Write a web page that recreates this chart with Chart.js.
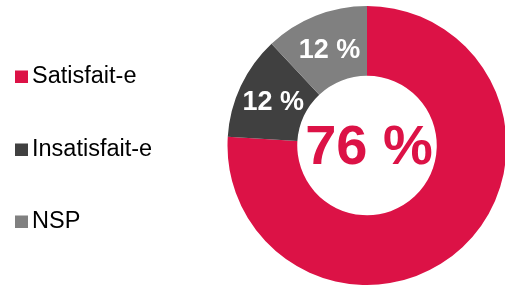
<!DOCTYPE html>
<html>
<head>
<meta charset="utf-8">
<script src="https://cdn.jsdelivr.net/npm/chart.js@4/dist/chart.umd.min.js"></script>
<style>
  html, body { margin: 0; padding: 0; background: #fff; overflow: hidden; }
  #wrap { width: 507px; height: 287px; }
</style>
</head>
<body>
<div id="wrap"><canvas id="donutChart"></canvas></div>
<script>
const categories = ['Satisfait-e', 'Insatisfait-e', 'NSP'];
const values = [76, 12, 12];
const colors = ['#dc1246', '#404040', '#808080'];
const centerLabel = '76 %';

// legend on the left, drawn by hand so the spacing matches
const sideLegend = {
    id: 'sideLegend',
    afterDraw: function(chart) {
        const ctx = chart.ctx;
        const rows = [76.5, 149.5, 221.5];
        ctx.save();
        ctx.font = '23.5px "Liberation Sans", Arial, sans-serif';
        ctx.textBaseline = 'middle';
        ctx.textAlign = 'left';
        for(let i=0;i<chart.data.labels.length;i++) {
            ctx.fillStyle = chart.data.datasets[0].backgroundColor[i];
            ctx.fillRect(15, rows[i] - 6, 13, 12.5);
            ctx.fillStyle = '#000';
            ctx.fillText(chart.data.labels[i], 32, rows[i] + 0.5);
        }
        ctx.restore();
    }
};

// percent labels on the arcs and big number in the hole
const arcLabels = {
    id: 'arcLabels',
    afterDatasetsDraw: function(chart) {
        const ctx = chart.ctx;
        const meta = chart.getDatasetMeta(0);
        ctx.save();
        ctx.textAlign = 'center';
        ctx.textBaseline = 'middle';
        ctx.fillStyle = '#fff';
        ctx.font = 'bold 27px "Liberation Sans", Arial, sans-serif';
        for(let i=1;i<meta.data.length;i++) {
            const pos = meta.data[i].tooltipPosition();
            ctx.fillText(values[i] + ' %', pos.x + 1, pos.y + 2);
        }
        const arc = meta.data[0];
        ctx.fillStyle = colors[0];
        ctx.font = 'bold 56px "Liberation Sans", Arial, sans-serif';
        ctx.fillText(centerLabel, arc.x + 2, arc.y + 3);
        ctx.restore();
    }
};

new Chart(document.getElementById('donutChart'), {
    type: 'doughnut',
    data: {
        labels: categories,
        datasets: [{
            data: values,
            backgroundColor: colors,
            borderWidth: 0
        }]
    },
    options: {
        responsive: true,
        maintainAspectRatio: false,
        animation: false,
        cutout: '50%',
        layout: { padding: { left: 227, top: 6, right: 0, bottom: 2 } },
        plugins: {
            legend: { display: false },
            tooltip: { enabled: false }
        }
    },
    plugins: [sideLegend, arcLabels]
});
</script>
</body>
</html>
